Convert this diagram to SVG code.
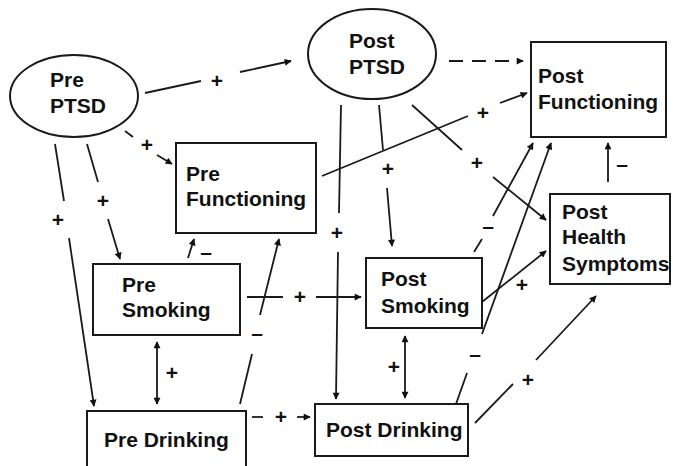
<svg xmlns="http://www.w3.org/2000/svg" width="673" height="466" viewBox="0 0 673 466">
<defs>
<marker id="ah" viewBox="0 0 10 10" refX="9" refY="5" markerWidth="8" markerHeight="7" markerUnits="userSpaceOnUse" orient="auto-start-reverse">
<path d="M0,0 L10,5 L0,10 z" fill="#111"/>
</marker>
</defs>
<style>
.shape{fill:#fff;stroke:#1a1a1a;stroke-width:2}
.nt{font-family:"Liberation Sans",Arial,sans-serif;font-weight:bold;font-size:21px;fill:#111}
.lb{font-family:"Liberation Sans",Arial,sans-serif;font-weight:bold;font-size:21px;fill:#111;text-anchor:middle}
.c{stroke:#1a1a1a;stroke-width:1.8;fill:none}
.a{marker-end:url(#ah)}
.d{marker-start:url(#ah);marker-end:url(#ah)}
</style>
<rect width="673" height="466" fill="#fff"/>
<g id="connectors">
<!-- Pre PTSD -> Post PTSD -->
<line class="c" x1="145" y1="93" x2="201" y2="81"/>
<line class="c a" x1="240" y1="72" x2="291" y2="61"/>
<text class="lb" x="217" y="88">+</text>
<!-- Pre PTSD -> Pre Functioning dashed -->
<line class="c" x1="125" y1="131" x2="133" y2="137"/>
<line class="c a" x1="157" y1="155" x2="172" y2="164"/>
<text class="lb" x="147" y="152">+</text>
<!-- Pre PTSD -> Pre Smoking -->
<line class="c" x1="87" y1="144" x2="98" y2="182"/>
<line class="c a" x1="108" y1="219" x2="120" y2="259"/>
<text class="lb" x="103" y="208">+</text>
<!-- Pre PTSD -> Pre Drinking -->
<line class="c" x1="55" y1="144" x2="64" y2="201"/>
<line class="c a" x1="69" y1="238" x2="94" y2="406"/>
<text class="lb" x="58" y="227">+</text>
<!-- Pre Smoking <-> Pre Drinking -->
<line class="c d" x1="157" y1="342" x2="157" y2="404"/>
<text class="lb" x="172" y="380">+</text>
<!-- Pre Smoking -> Pre Functioning -->
<line class="c a" x1="188" y1="258" x2="194" y2="239"/>
<text class="lb" x="206" y="259">–</text>
<!-- Pre Drinking -> Pre Functioning -->
<line class="c" x1="240" y1="404" x2="252" y2="354"/>
<line class="c a" x1="260" y1="315" x2="279" y2="239"/>
<text class="lb" x="257" y="340">–</text>
<!-- Pre Smoking -> Post Smoking -->
<line class="c" x1="247" y1="297" x2="283" y2="297"/>
<line class="c a" x1="316" y1="297" x2="361" y2="297"/>
<text class="lb" x="300" y="304">+</text>
<!-- Post PTSD -> Post Drinking -->
<line class="c" x1="341" y1="105" x2="339" y2="213"/>
<line class="c a" x1="338" y1="252" x2="336" y2="399"/>
<text class="lb" x="337" y="240">+</text>
<!-- Post PTSD -> Post Smoking -->
<line class="c" x1="379" y1="105" x2="383" y2="150"/>
<line class="c a" x1="387" y1="188" x2="392" y2="246"/>
<text class="lb" x="388" y="176">+</text>
<!-- Pre Functioning -> Post Functioning -->
<line class="c" x1="322" y1="176" x2="468" y2="116"/>
<line class="c a" x1="500" y1="103" x2="527" y2="93"/>
<text class="lb" x="483" y="120">+</text>
<!-- Post PTSD -> Post Functioning dashed -->
<line class="c a" x1="449" y1="61" x2="523" y2="61" stroke-dasharray="14,9"/>
<!-- Post PTSD -> Post Health Symptoms -->
<line class="c" x1="412" y1="105" x2="462" y2="150"/>
<line class="c a" x1="493" y1="177" x2="546" y2="220"/>
<text class="lb" x="477" y="170">+</text>
<!-- Post Smoking -> Post Functioning -->
<line class="c" x1="474" y1="252" x2="482" y2="239"/>
<line class="c a" x1="493" y1="216" x2="533" y2="143"/>
<text class="lb" x="488" y="233">–</text>
<!-- Post Drinking -> Post Functioning -->
<line class="c" x1="456" y1="404" x2="467" y2="373"/>
<line class="c a" x1="482" y1="334" x2="551" y2="143"/>
<text class="lb" x="475" y="361">–</text>
<!-- Post Smoking -> Post Health Symptoms -->
<line class="c a" x1="482" y1="302" x2="546" y2="251"/>
<text class="lb" x="522" y="292">+</text>
<!-- Post Drinking -> Post Health Symptoms -->
<line class="c" x1="475" y1="423" x2="513" y2="384"/>
<line class="c a" x1="536" y1="360" x2="596" y2="296"/>
<text class="lb" x="528" y="387">+</text>
<!-- Post Health Symptoms -> Post Functioning -->
<line class="c a" x1="608" y1="182" x2="608" y2="143"/>
<text class="lb" x="622" y="171">–</text>
<!-- Pre Drinking -> Post Drinking dashed -->
<line class="c" x1="252" y1="417" x2="263" y2="417"/>
<line class="c a" x1="297" y1="417" x2="310" y2="417"/>
<text class="lb" x="281" y="424">+</text>
<!-- Post Smoking <-> Post Drinking -->
<line class="c d" x1="405" y1="336" x2="405" y2="398"/>
<text class="lb" x="394" y="374">+</text>
</g>
<g id="pre-ptsd">
<ellipse class="shape" cx="74" cy="96" rx="64" ry="41"/>
<text class="nt" x="50" y="87">Pre</text>
<text class="nt" x="50" y="113">PTSD</text>
</g>
<g id="post-ptsd">
<ellipse class="shape" cx="372" cy="54" rx="64" ry="45"/>
<text class="nt" x="349" y="48">Post</text>
<text class="nt" x="349" y="74">PTSD</text>
</g>
<g id="pre-functioning">
<rect class="shape" x="176" y="143" width="140" height="90"/>
<text class="nt" x="186" y="181">Pre</text>
<text class="nt" x="186" y="206">Functioning</text>
</g>
<g id="post-functioning">
<rect class="shape" x="531" y="42" width="135" height="95"/>
<text class="nt" x="538" y="83">Post</text>
<text class="nt" x="538" y="109">Functioning</text>
</g>
<g id="pre-smoking">
<rect class="shape" x="93" y="264" width="147" height="71"/>
<text class="nt" x="122" y="292">Pre</text>
<text class="nt" x="122" y="317">Smoking</text>
</g>
<g id="post-smoking">
<rect class="shape" x="366" y="258" width="116" height="70"/>
<text class="nt" x="381" y="286">Post</text>
<text class="nt" x="381" y="313">Smoking</text>
</g>
<g id="post-health-symptoms">
<rect class="shape" x="550" y="194" width="120" height="90"/>
<text class="nt" x="562" y="219">Post</text>
<text class="nt" x="562" y="244">Health</text>
<text class="nt" x="562" y="271">Symptoms</text>
</g>
<g id="pre-drinking">
<rect class="shape" x="87" y="411" width="159" height="62"/>
<text class="nt" x="104" y="447">Pre Drinking</text>
</g>
<g id="post-drinking">
<rect class="shape" x="315" y="404" width="153" height="52"/>
<text class="nt" x="326" y="437">Post Drinking</text>
</g>
</svg>
